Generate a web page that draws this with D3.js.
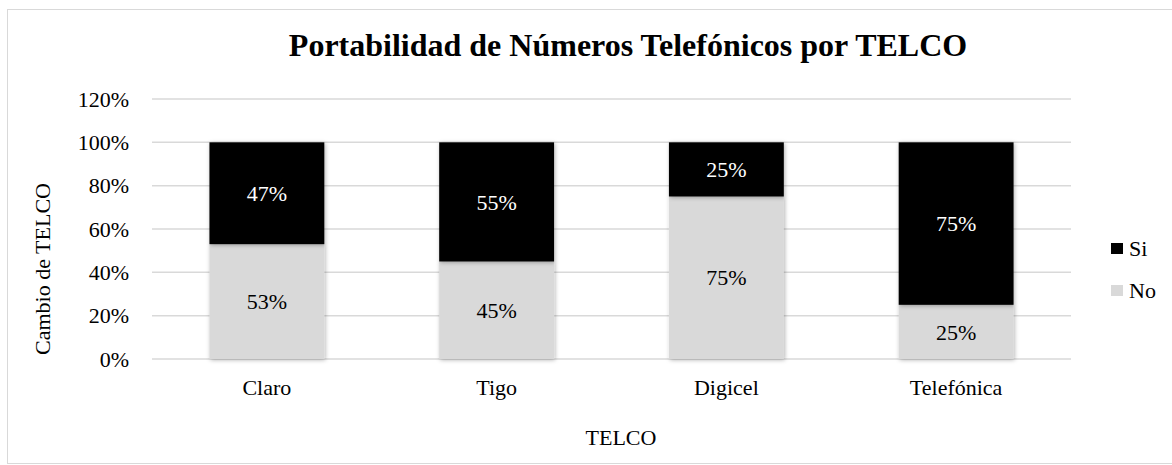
<!DOCTYPE html>
<html lang="es">
<head>
<meta charset="utf-8">
<title>Portabilidad</title>
<script src="https://d3js.org/d3.v7.min.js"></script>
<style>
  body { margin: 0; background: #fff; }
</style>
</head>
<body>
<div id="chart"></div>
<script>
// data
const telcos = ["Claro", "Tigo", "Digicel", "Telefónica"];
const noValues = [0.53, 0.45, 0.75, 0.25];
const siValues = [0.47, 0.55, 0.25, 0.75];
const seriesNames = ["No", "Si"];
const yTicks = [0, 0.2, 0.4, 0.6, 0.8, 1.0, 1.2];

const colors = { No: "#d9d9d9", Si: "#000000" };
const labelColors = { No: "#000000", Si: "#ffffff" };
const FONT = "'Liberation Serif', 'Times New Roman', serif";
const fs = "22px";

const width = 1172, height = 465;
const margin = { top: 99, right: 101, bottom: 106, left: 152 };

const svg = d3.select("#chart").append("svg")
  .attr("width", width)
  .attr("height", height)
  .style("display", "block")
  .style("font-family", FONT);

// soft shadow on bars
const defs = svg.append("defs");
const f = defs.append("filter").attr("id", "shadow")
  .attr("x", "-10%").attr("y", "-10%").attr("width", "120%").attr("height", "120%");
f.append("feDropShadow").attr("dx", 1).attr("dy", 1).attr("stdDeviation", 2)
  .attr("flood-color", "#000").attr("flood-opacity", 0.3);

// outer border
svg.append("rect")
  .attr("x", 7.5).attr("y", 9.5)
  .attr("width", width - 7).attr("height", height - 11)
  .attr("fill", "none").attr("stroke", "#d9d9d9").attr("stroke-width", 1);

const x = d3.scaleBand()
  .domain(telcos)
  .range([margin.left, width - margin.right])
  .paddingInner(0.5)
  .paddingOuter(0.25);

const y = d3.scaleLinear()
  .domain([0, 1.2])
  .range([height - margin.bottom, margin.top]);

// gridlines
svg.append("g")
  .selectAll("line")
  .data(yTicks)
  .join("line")
  .attr("x1", margin.left).attr("x2", width - margin.right)
  .attr("y1", d => y(d)).attr("y2", d => y(d))
  .attr("stroke", "#d9d9d9").attr("stroke-width", 1.5);

// y axis labels
const yAxis = svg.append("g")
  .attr("transform", "translate(" + margin.left + ",0)")
  .call(d3.axisLeft(y).tickValues(yTicks).tickFormat(d3.format(".0%")).tickSize(0).tickPadding(23));
yAxis.select(".domain").remove();
yAxis.attr("font-family", null).attr("font-size", null);
yAxis.selectAll("text")
  .style("font-family", FONT)
  .style("font-size", fs).attr("fill", "#000");

// stacked data
const table = telcos.map((t, i) => ({ telco: t, No: noValues[i], Si: siValues[i] }));
const stacked = d3.stack().keys(seriesNames)(table);

const layers = svg.append("g").selectAll("g")
  .data(stacked)
  .join("g")
  .attr("fill", d => colors[d.key]);

layers.selectAll("rect")
  .data(d => d)
  .join("rect")
  .attr("x", d => x(d.data.telco))
  .attr("y", d => y(d[1]))
  .attr("width", x.bandwidth())
  .attr("height", d => y(d[0]) - y(d[1]))
  .attr("filter", "url(#shadow)");

// value labels
stacked.forEach(layer => {
  svg.append("g").selectAll("text")
    .data(layer)
    .join("text")
    .attr("x", d => x(d.data.telco) + x.bandwidth() / 2)
    .attr("y", d => (y(d[0]) + y(d[1])) / 2)
    .attr("dy", "0.35em")
    .attr("text-anchor", "middle")
    .style("font-family", FONT)
    .style("font-size", fs)
    .attr("fill", labelColors[layer.key])
    .text(d => Math.round((d[1] - d[0]) * 100) + "%");
});

// x axis labels
svg.append("g").selectAll("text")
  .data(telcos)
  .join("text")
  .attr("x", d => x(d) + x.bandwidth() / 2)
  .attr("y", 395)
  .attr("text-anchor", "middle")
  .style("font-family", FONT)
  .style("font-size", fs)
  .text(d => d);

// title
svg.append("text")
  .attr("x", 628).attr("y", 56)
  .attr("text-anchor", "middle")
  .style("font-family", FONT)
  .style("font-size", "32px").style("font-weight", "bold")
  .text("Portabilidad de Números Telefónicos por TELCO");

// axis titles
svg.append("text")
  .attr("x", 621).attr("y", 445)
  .attr("text-anchor", "middle")
  .style("font-family", FONT)
  .style("font-size", fs)
  .text("TELCO");

svg.append("text")
  .attr("transform", "translate(50,269) rotate(-90)")
  .attr("text-anchor", "middle")
  .style("font-family", FONT)
  .style("font-size", fs)
  .text("Cambio de TELCO");

// legend
const legend = svg.append("g").selectAll("g")
  .data(["Si", "No"])
  .join("g")
  .attr("transform", (d, i) => "translate(1111," + (243 + i * 42) + ")");
legend.append("rect")
  .attr("width", 12).attr("height", 11)
  .attr("fill", d => colors[d]);
legend.append("text")
  .attr("x", 18).attr("y", 13)
  .style("font-family", FONT)
  .style("font-size", fs)
  .text(d => d);
</script>
</body>
</html>
